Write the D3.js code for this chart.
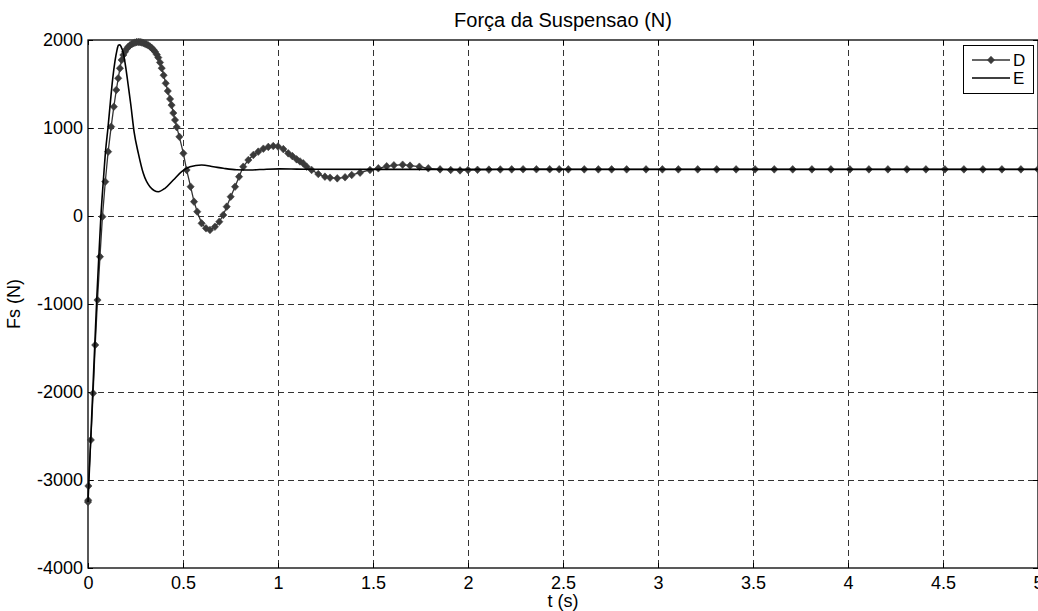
<!DOCTYPE html>
<html>
<head>
<meta charset="utf-8">
<script src="https://cdn.jsdelivr.net/npm/d3@7"></script>
<style>
  body { margin: 0; background: #fff; }
  text { font-family: "Liberation Sans", Arial, sans-serif; fill: #000; }
</style>
</head>
<body>
<script>
// series D (ode output, variable step) -> drawn with diamond markers
const tD = [0, 0.001, 0.002, 0.015, 0.027, 0.038, 0.05, 0.063, 0.076, 0.091, 0.106, 0.122, 0.136, 0.149, 0.159,
  0.168, 0.177, 0.186, 0.195, 0.204, 0.212, 0.221, 0.23, 0.238, 0.247, 0.256, 0.265, 0.274, 0.283, 0.291,
  0.3, 0.308, 0.317, 0.326, 0.335, 0.344, 0.353, 0.362, 0.37, 0.379, 0.388, 0.398, 0.409, 0.42, 0.432,
  0.44, 0.449, 0.458, 0.467, 0.481, 0.502, 0.519, 0.54, 0.558, 0.575, 0.598, 0.621, 0.642, 0.668, 0.691,
  0.712, 0.73, 0.751, 0.774, 0.795, 0.817, 0.844, 0.87, 0.896, 0.923, 0.949, 0.975, 1.0, 1.028, 1.054,
  1.076, 1.098, 1.116, 1.133, 1.151, 1.177, 1.212, 1.247, 1.274, 1.312, 1.353, 1.388, 1.432, 1.484, 1.528,
  1.572, 1.61, 1.656, 1.695, 1.744, 1.791, 1.853, 1.909, 1.958, 2.0, 2.05, 2.11, 2.17, 2.23, 2.29, 2.36,
  2.43, 2.48, 2.528, 2.612, 2.686, 2.756, 2.835, 2.937, 3.023, 3.107, 3.209, 3.309, 3.411, 3.511, 3.612,
  3.709, 3.81, 3.91, 4.01, 4.11, 4.21, 4.31, 4.41, 4.51, 4.61, 4.71, 4.81, 4.91, 5.0];
const vD = [-3250, -3230, -3068, -2545, -2015, -1466, -955, -462, -8, 390, 731, 1015, 1242, 1432, 1565,
  1678, 1773, 1830, 1867, 1900, 1922, 1940, 1952, 1963, 1970, 1976, 1978, 1976, 1972, 1966,
  1958, 1950, 1940, 1926, 1910, 1890, 1866, 1835, 1800, 1745, 1680, 1600, 1508, 1420, 1330,
  1260, 1170, 1091, 1010, 900, 712, 523, 333, 163, 49, -83, -140, -159, -122, -65,
  11, 106, 219, 333, 447, 560, 636, 693, 731, 765, 785, 795, 790, 760, 712,
  680, 644, 620, 598, 560, 523, 477, 447, 435, 428, 440, 466, 492, 523, 542,
  565, 576, 583, 572, 560, 542, 530, 523, 518, 522, 525, 527, 529, 530, 531, 531,
  531, 531, 530, 530, 530, 530, 530, 530, 530, 530, 530, 530, 530, 530, 530,
  530, 530, 530, 530, 530, 530, 530, 530, 530, 530, 530, 530, 530, 530];

// series E (plain line)
const tE = [0, 0.012, 0.024, 0.036, 0.047, 0.058, 0.068, 0.08, 0.093, 0.105, 0.118, 0.13, 0.142, 0.152,
  0.16, 0.167, 0.175, 0.185, 0.2, 0.212, 0.225, 0.243, 0.265, 0.291, 0.326, 0.37, 0.405, 0.449, 0.493,
  0.537, 0.598, 0.66, 0.712, 0.782, 0.853, 0.94, 1.01, 1.1, 1.2, 1.5, 2, 3, 4, 5];
const vE = [-3250, -2650, -2050, -1450, -900, -420, 0, 380, 750, 1000, 1300, 1560, 1760, 1880,
  1940, 1945, 1920, 1860, 1670, 1480, 1270, 950, 712, 485, 333, 276, 314, 409, 503,
  560, 580, 560, 542, 525, 523, 532, 535, 533, 531, 530, 530, 530, 530, 530];

const xTicks = [0, 0.5, 1, 1.5, 2, 2.5, 3, 3.5, 4, 4.5, 5];
const yTicks = [-4000, -3000, -2000, -1000, 0, 1000, 2000];
const seriesNames = ['D', 'E'];

const W = 1038, H = 611;
const pL = 88, pR = 1038, pT = 40, pB = 568;

const x = d3.scaleLinear().domain([0, 5]).range([pL, pR]);
const y = d3.scaleLinear().domain([-4000, 2000]).range([pB, pT]);

const svg = d3.select('body').append('svg')
    .attr('width', W)
    .attr('height', H);

// grid
const grid = svg.append('g')
    .attr('stroke', '#333')
    .attr('stroke-width', 1)
    .attr('stroke-dasharray', '6,4');
grid.selectAll('.gx').data(xTicks.slice(1, -1)).join('line')
    .attr('x1', d => Math.round(x(d)) + 0.5).attr('x2', d => Math.round(x(d)) + 0.5)
    .attr('y1', pT).attr('y2', pB);
grid.selectAll('.gy').data(yTicks.slice(1, -1)).join('line')
    .attr('x1', pL).attr('x2', pR)
    .attr('y1', d => Math.round(y(d)) + 0.5).attr('y2', d => Math.round(y(d)) + 0.5);

// axes, ticks inside like matlab (plain hyphen for negatives)
const xAxis = d3.axisBottom(x).tickValues(xTicks).tickSizeInner(-5).tickSizeOuter(0)
    .tickFormat(d => String(d));
const yAxis = d3.axisLeft(y).tickValues(yTicks).tickSizeInner(-5).tickSizeOuter(0)
    .tickFormat(d => String(d));

const gx = svg.append('g').attr('transform', `translate(0,${pB})`).call(xAxis);
const gy = svg.append('g').attr('transform', `translate(${pL},0)`).call(yAxis);
svg.append('g').attr('transform', `translate(0,${pT})`)
    .call(d3.axisTop(x).tickValues(xTicks).tickSizeInner(-5).tickSizeOuter(0).tickFormat(''));
svg.append('g').attr('transform', `translate(${pR},0)`)
    .call(d3.axisRight(y).tickValues(yTicks).tickSizeInner(-5).tickSizeOuter(0).tickFormat(''));

svg.selectAll('.domain').remove();
svg.selectAll('.tick line').attr('stroke', '#000');
svg.selectAll('g').attr('font-family', null);
gx.selectAll('text').attr('font-size', 18).attr('dy', '1.05em').attr('y', 2);
gy.selectAll('text').attr('font-size', 18).attr('x', -5);

svg.append('rect')
    .attr('x', pL).attr('y', pT)
    .attr('width', pR - pL).attr('height', pB - pT)
    .attr('fill', 'none').attr('stroke', '#000').attr('stroke-width', 1.3);

// data
const dPts = tD.map((t, i) => [t, vD[i]]);
const ePts = tE.map((t, i) => [t, vE[i]]);

const line = d3.line().x(d => x(d[0])).y(d => y(d[1]));
const smooth = d3.line().x(d => x(d[0])).y(d => y(d[1])).curve(d3.curveMonotoneX);

svg.append('path').datum(dPts)
    .attr('d', line)
    .attr('fill', 'none').attr('stroke', '#333').attr('stroke-width', 1.3);

const diamond = 'M0,-3.8L3.6,0L0,3.8L-3.6,0Z';
svg.append('g').selectAll('path').data(dPts).join('path')
    .attr('d', diamond)
    .attr('transform', d => `translate(${x(d[0])},${y(d[1])})`)
    .attr('fill', '#3a3a3a').attr('stroke', '#3a3a3a').attr('stroke-width', 0.6);

svg.append('path').datum(ePts)
    .attr('d', smooth)
    .attr('fill', 'none').attr('stroke', '#000').attr('stroke-width', 1.6);

// labels
svg.append('text').attr('x', (pL + pR) / 2).attr('y', 27)
    .attr('text-anchor', 'middle').attr('font-size', 20)
    .text('Força da Suspensao (N)');
svg.append('text').attr('x', (pL + pR) / 2).attr('y', 607)
    .attr('text-anchor', 'middle').attr('font-size', 18)
    .text('t (s)');
svg.append('text').attr('transform', `translate(20,${(pT + pB) / 2}) rotate(-90)`)
    .attr('text-anchor', 'middle').attr('font-size', 18)
    .text('Fs (N)');

// legend
const lg = svg.append('g');
lg.append('rect').attr('x', 963.5).attr('y', 45.5).attr('width', 70).attr('height', 48)
    .attr('fill', '#fff').attr('stroke', '#000').attr('stroke-width', 1);
const rows = lg.selectAll('g').data(seriesNames).join('g')
    .attr('transform', (d, i) => `translate(0,${60 + i * 18})`);
rows.append('line').attr('x1', 972).attr('x2', 1010).attr('y1', 0).attr('y2', 0)
    .attr('stroke', (d, i) => i === 0 ? '#333' : '#000')
    .attr('stroke-width', (d, i) => i === 0 ? 1.3 : 1.6);
rows.filter((d, i) => i === 0).append('path')
    .attr('d', diamond).attr('transform', 'translate(991,0)')
    .attr('fill', '#3a3a3a').attr('stroke', '#3a3a3a').attr('stroke-width', 0.6);
rows.append('text').attr('x', 1013).attr('y', 6).attr('font-size', 17).text(d => d);
</script>
</body>
</html>
